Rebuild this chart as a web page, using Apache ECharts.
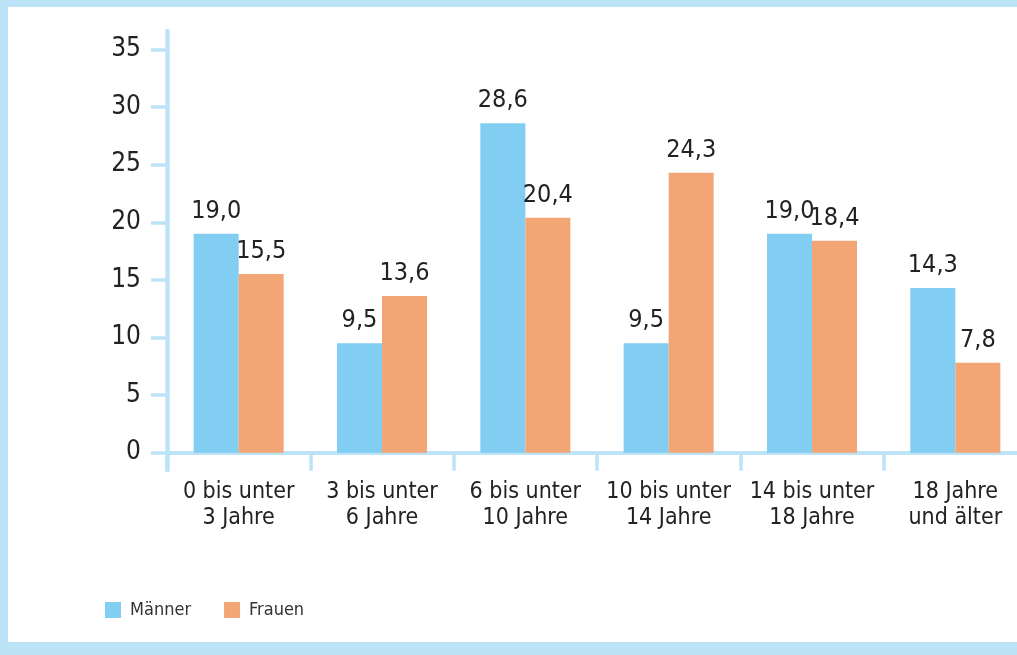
<!DOCTYPE html>
<html>
<head>
<meta charset="utf-8">
<script src="https://cdn.jsdelivr.net/npm/echarts@6/dist/echarts.min.js"></script>
<style>
  html, body { margin: 0; padding: 0; background: #bde3f7; overflow: hidden; }
  #chart { position: absolute; left: 8px; top: 7px; width: 1040px; height: 635px; background: #fff; }
</style>
</head>
<body>
<div id="chart"></div>
<script>
var categories = ['0 bis unter\n3 Jahre', '3 bis unter\n6 Jahre', '6 bis unter\n10 Jahre', '10 bis unter\n14 Jahre', '14 bis unter\n18 Jahre', '18 Jahre\nund älter'];
var maenner = [19.0, 9.5, 28.6, 9.5, 19.0, 14.3];
var frauen = [15.5, 13.6, 20.4, 24.3, 18.4, 7.8];
var yTicks = [0, 5, 10, 15, 20, 25, 30, 35];

var FONT = '"Liberation Sans Narrow", "DejaVu Sans Condensed", "Roboto", sans-serif';
var AXIS = '#bde3f7';

function fmt(p) {
	return p.value.toFixed(1).replace('.', ',');
}

var chart = echarts.init(document.getElementById('chart'));
option = {
	animation: false,
	textStyle: { fontFamily: FONT },
	legend: {
		left: 92,
		top: 589,
		itemWidth: 16,
		itemHeight: 16,
		itemGap: 33,
		icon: 'rect',
		textStyle: { fontFamily: FONT, fontSize: 18, color: '#333', padding: [0, 0, 0, 4] },
		data: ['Männer', 'Frauen']
	},
	grid: {
		left: 159,
		right: 21,
		top: 24,
		bottom: 172,
		containLabel: false
	},
	xAxis: {
		type: 'category',
		data: categories,
		axisLine: { onZero: true, lineStyle: { color: AXIS, width: 4 } },
		axisTick: { show: true, length: 18, lineStyle: { color: AXIS, width: 3.5 } },
		axisLabel: {
			interval: 0,
			margin: 9,
			fontFamily: FONT,
			fontSize: 23,
			lineHeight: 26,
			color: '#222'
		}
	},
	yAxis: {
		type: 'value',
		min: -1.5,
		max: 36.6,
		splitLine: { show: false },
		axisLine: { show: true, lineStyle: { color: AXIS, width: 4.5 } },
		axisTick: { show: true, length: 16, customValues: yTicks, lineStyle: { color: AXIS, width: 3.5 } },
		axisLabel: {
			customValues: yTicks,
			margin: 26,
			fontFamily: FONT,
			fontSize: 26,
			color: '#222'
		}
	},
	series: [{
		name: 'Männer',
		type: 'bar',
		data: maenner,
		barWidth: 45,
		barGap: 0,
		itemStyle: { color: '#82cdf2' },
		label: { show: true, position: 'top', distance: 10, formatter: fmt, fontFamily: FONT, fontSize: 25, color: '#222' }
	}, {
		name: 'Frauen',
		type: 'bar',
		data: frauen,
		barWidth: 45,
		barGap: 0,
		itemStyle: { color: '#f2a575' },
		label: { show: true, position: 'top', distance: 10, formatter: fmt, fontFamily: FONT, fontSize: 25, color: '#222' }
	}]
};
chart.setOption(option);
window.addEventListener('resize', function () {
	chart.resize();
});
</script>
</body>
</html>
